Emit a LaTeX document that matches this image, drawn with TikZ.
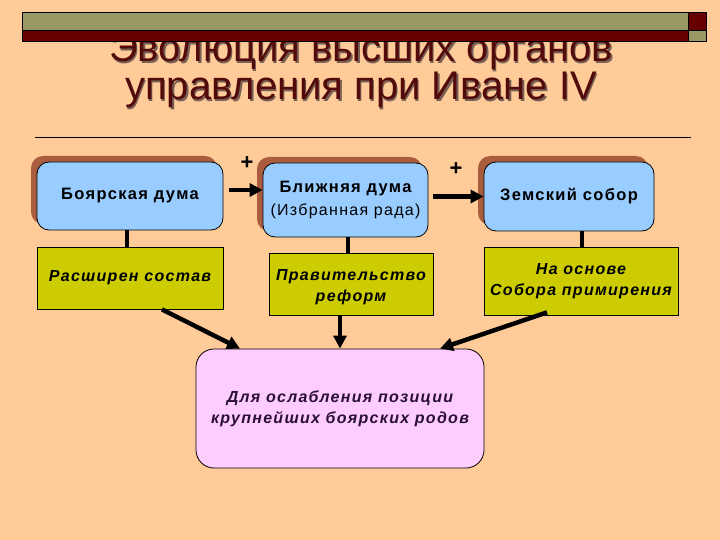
\documentclass[tikz,border=0pt]{standalone}
\usepackage{fontspec}
\setmainfont{Liberation Sans}
\newfontfamily\boxfont[LetterSpace=8]{Liberation Sans}
\usetikzlibrary{calc,arrows.meta}
\definecolor{bgpeach}{RGB}{255,204,153}
\definecolor{bargreen}{RGB}{153,153,102}
\definecolor{barred}{RGB}{102,0,0}
\definecolor{titlered}{RGB}{82,10,10}
\definecolor{titleshadow}{RGB}{120,96,84}
\definecolor{boxblue}{RGB}{153,204,255}
\definecolor{shadowbrown}{RGB}{170,92,62}
\definecolor{boxolive}{RGB}{204,204,0}
\definecolor{boxpink}{RGB}{255,204,255}
\definecolor{pinktext}{RGB}{40,16,56}
\tikzset{
  bluebox/.style={draw=black, line width=0.8pt, fill=boxblue, rounded corners=12pt, inner sep=0pt, align=center, font=\boxfont\bfseries\fontsize{16.5}{23}\selectfont},
  olivebox/.style={draw=black, line width=0.8pt, fill=boxolive, inner sep=0pt, align=center, font=\boxfont\bfseries\itshape\fontsize{16}{21.5}\selectfont},
  pinkbox/.style={draw=black, line width=0.8pt, fill=boxpink, rounded corners=18pt, inner sep=0pt, align=center, text=pinktext, font=\boxfont\bfseries\itshape\fontsize{16}{21}\selectfont},
  conn/.style={line width=4pt, black},
  arr/.style={line width=4.5pt, black, -{Triangle[length=13pt,width=13pt]}},
  plus/.style={font=\bfseries\fontsize{22}{22}\selectfont, inner sep=0pt},
  titletext/.style={font=\fontsize{40}{40}\selectfont, inner sep=0pt, anchor=base}
}
\begin{document}
\begin{tikzpicture}[x=1pt,y=-1pt]
\useasboundingbox (0,0) rectangle (720,540);
\fill[bgpeach] (0,0) rectangle (720,540);
% title
\node[titletext, text=titleshadow] (t1s) at (362.5,63.5) {Эволюция высших органов};
\node[titletext, text=titlered] (t1) at (361,62) {Эволюция высших органов};
\node[titletext, text=titleshadow] (t2s) at (362.5,101.5) {управления при Иване IV};
\node[titletext, text=titlered] (t2) at (361,100) {управления при Иване IV};
% top bars (over the title)
\filldraw[fill=bargreen, draw=black, line width=0.6pt] (22,12.7) rectangle (688,30);
\filldraw[fill=barred, draw=black, line width=0.6pt] (22,30) rectangle (688,41);
\filldraw[fill=barred, draw=black, line width=0.6pt] (688,12.7) rectangle (706,30);
\filldraw[fill=bargreen, draw=black, line width=0.6pt] (688,30) rectangle (706,41);
\draw[line width=0.8pt] (35,137) -- (691,137);
% brown shadows of the blue boxes
\fill[shadowbrown, rounded corners=12pt] (31,156) rectangle (217,224);
\fill[shadowbrown, rounded corners=12pt] (257,157) rectangle (422,231);
\fill[shadowbrown, rounded corners=12pt] (478,156) rectangle (648,225);
% blue boxes
\node[bluebox, minimum width=186pt, minimum height=68pt] (b1) at (130,196) {Боярская дума};
\node[bluebox, minimum width=165pt, minimum height=74pt] (b2) at (345.5,200) {Ближняя дума\\{\mdseries\fontsize{16}{23}\selectfont (Избранная рада)}};
\node[bluebox, minimum width=170pt, minimum height=69pt] (b3) at (569,196.5) {Земский собор};
% olive boxes
\node[olivebox, minimum width=186pt, minimum height=62pt] (ba) at (130,278) {Расширен состав};
\node[olivebox, minimum width=164pt, minimum height=62pt, text depth=0pt] (bb) at (351,284) {\raisebox{-3pt}{\shortstack{Правительство\\[3pt]реформ}}};
\node[olivebox, minimum width=194pt, minimum height=68pt] (bc) at (581,281) {На основе\\Собора примирения};
% pink box
\node[pinkbox, minimum width=288pt, minimum height=119pt] (pk) at (340,408.5) {\raisebox{-5pt}{\shortstack{Для ослабления позиции\\[3pt]крупнейших боярских родов}}};
% vertical connectors
\draw[conn] ([xshift=-3pt]b1.south) -- ([xshift=-3pt]b1.south |- ba.north);
\draw[conn] ([xshift=2.5pt]b2.south) -- ([xshift=2.5pt]b2.south |- bb.north);
\draw[conn] ([xshift=13pt]b3.south) -- ([xshift=13pt]b3.south |- bc.north);
% horizontal arrows
\draw[arr] ([xshift=6pt,yshift=6pt]b1.east) -- ([yshift=6pt]b1.east -| b2.west);
\draw[arr] ([xshift=5pt]b3.west -| b2.east) -- (b3.west);
\node[plus] (p1) at (247,163) {+};
\node[plus] (p2) at (456,169) {+};
% arrows to pink box
\draw[arr] ([xshift=32pt]ba.south) -- ([xshift=-100pt]pk.north);
\draw[arr] (bb.south -| pk.north) -- (pk.north);
\draw[arr] ([xshift=-34pt,yshift=3pt]bc.south) -- ([xshift=100pt]pk.north);
\end{tikzpicture}
\end{document}
